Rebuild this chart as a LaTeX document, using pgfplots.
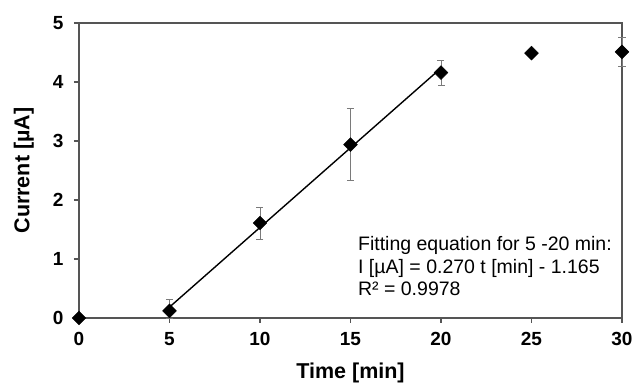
\documentclass[border=0pt]{standalone}
\usepackage{pgfplots}
\pgfplotsset{compat=1.18}
\usepackage{fontspec}
\setmainfont{Liberation Sans}
\definecolor{axgray}{HTML}{555555}
\definecolor{errgray}{HTML}{7A7A7A}
\begin{document}
\begin{tikzpicture}
\useasboundingbox (-79pt,-65pt) rectangle (554pt,318pt);
\begin{axis}[
  anchor=south west, at={(0pt,0pt)},
  scale only axis,
  width=543pt, height=295pt,
  xmin=0, xmax=30, ymin=0, ymax=5,
  xtick={0,5,...,30}, ytick={0,1,...,5},
  tick align=outside,
  xtick pos=lower, ytick pos=left,
  major tick length=5pt,
  axis line style={draw=axgray, line width=1.4pt},
  tick style={draw=axgray, line width=1.2pt},
  /pgf/number format/assume math mode=true,
  tick label style={font=\bfseries\fontsize{19}{19}\selectfont},
  xticklabel style={yshift=-6pt},
  yticklabel style={xshift=-7pt},
  xlabel={Time [min]}, ylabel={Current [µA]},
  label style={font=\bfseries\fontsize{21.5}{21.5}\selectfont},
  xlabel style={at={(rel axis cs:0.5,-0.2034)}, anchor=base},
  ylabel style={at={(rel axis cs:-0.0912,0.5)}, anchor=base},
  clip=false,
]
\addplot[black, line width=1.4pt, forget plot] coordinates {(5,0.185) (20,4.235)};
\addplot[only marks, mark=square*, mark size=4.9pt, mark options={rotate=45, fill=black, draw=black},
  error bars/.cd, y dir=both, y explicit,
  error bar style={draw=errgray, line width=0.8pt},
  error mark options={rotate=90, mark size=3.5pt, draw=errgray, line width=0.8pt}]
  coordinates {
  (0,0) +- (0,0)
  (5,0.12) += (0,0.20) -= (0,0.12)
  (10,1.61) +- (0,0.27)
  (15,2.94) +- (0,0.61)
  (20,4.16) +- (0,0.21)
  (25,4.49) +- (0,0.05)
  (30,4.51) +- (0,0.24)
  };
\node[anchor=north west, align=left, inner sep=0pt, font=\fontsize{19.5}{22.5}\selectfont] at (axis cs:15.41,1.38)
  {Fitting equation for 5 -20 min:\\I [µA] = 0.270 t [min] - 1.165\\R² = 0.9978};
\end{axis}
\end{tikzpicture}
\end{document}
